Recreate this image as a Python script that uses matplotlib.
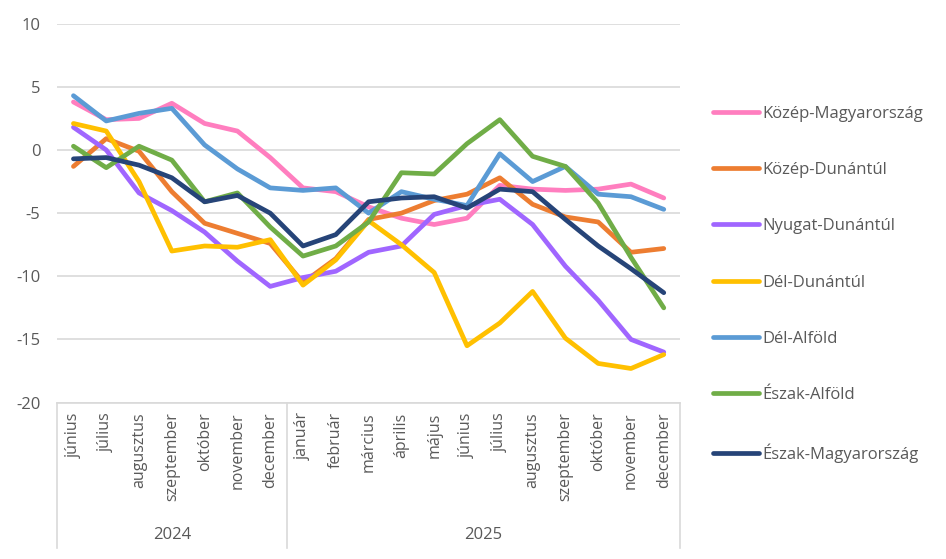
import matplotlib
matplotlib.use("Agg")
import matplotlib.pyplot as plt
import matplotlib.transforms as mtransforms

plt.rcParams['font.family'] = ['Open Sans', 'DejaVu Sans']
plt.rcParams['axes.unicode_minus'] = False

# honapok (2024 jun - 2025 dec)
months = ['június', 'július', 'augusztus', 'szeptember', 'október', 'november', 'december',
          'január', 'február', 'március', 'április', 'május', 'június', 'július',
          'augusztus', 'szeptember', 'október', 'november', 'december']
years = ['2024', '2025']
year_spans = [(0, 6), (7, 18)]

kozep_magyarorszag = [3.8, 2.4, 2.5, 3.7, 2.1, 1.5, -0.6, -3.0, -3.3, -4.5, -5.4, -5.9, -5.4,
                      -2.8, -3.1, -3.2, -3.1, -2.7, -3.8]
kozep_dunantul = [-1.3, 0.9, -0.1, -3.3, -5.8, -6.6, -7.4, -10.5, -8.6, -5.5, -5.0, -4.0, -3.5,
                  -2.2, -4.3, -5.3, -5.7, -8.1, -7.8]
nyugat_dunantul = [1.8, 0.0, -3.4, -4.8, -6.5, -8.8, -10.8, -10.1, -9.6, -8.1, -7.6, -5.1, -4.4,
                   -3.9, -5.9, -9.2, -11.9, -15.0, -16.0]
del_dunantul = [2.1, 1.5, -2.5, -8.0, -7.6, -7.7, -7.1, -10.7, -8.7, -5.6, -7.5, -9.7, -15.5,
                -13.7, -11.2, -14.9, -16.9, -17.3, -16.2]
del_alfold = [4.3, 2.3, 2.9, 3.3, 0.4, -1.5, -3.0, -3.2, -3.0, -5.0, -3.3, -3.9, -4.4,
              -0.3, -2.5, -1.3, -3.5, -3.7, -4.7]
eszak_alfold = [0.3, -1.4, 0.3, -0.8, -4.1, -3.4, -6.1, -8.4, -7.6, -5.7, -1.8, -1.9, 0.5,
                2.4, -0.5, -1.3, -4.2, -8.5, -12.5]
eszak_magyarorszag = [-0.7, -0.6, -1.2, -2.2, -4.1, -3.6, -5.0, -7.6, -6.7, -4.1, -3.8, -3.7, -4.6,
                      -3.1, -3.3, -5.5, -7.6, -9.4, -11.3]

series = [
    ('Közép-Magyarország', kozep_magyarorszag, '#FF7EBF'),
    ('Közép-Dunántúl', kozep_dunantul, '#ED7D31'),
    ('Nyugat-Dunántúl', nyugat_dunantul, '#A066FF'),
    ('Dél-Dunántúl', del_dunantul, '#FFC000'),
    ('Dél-Alföld', del_alfold, '#5B9BD5'),
    ('Észak-Alföld', eszak_alfold, '#70AD47'),
    ('Észak-Magyarország', eszak_magyarorszag, '#264478'),
]

grey = '#D9D9D9'
text_grey = '#595959'

fig = plt.figure(figsize=(9.46, 5.59), dpi=100)
ax = fig.add_axes([0.0603, 0.2798, 0.6587, 0.6778])

x = list(range(len(months)))
for name, vals, col in series:
    ax.plot(x, vals, color=col, lw=3.4, label=name,
            solid_capstyle='round', solid_joinstyle='round')

ax.set_xlim(-0.5, len(months) - 0.5)
ax.set_ylim(-20, 10)
ax.set_yticks(range(-20, 11, 5))
ax.yaxis.grid(True, color=grey, lw=1.2)
ax.set_axisbelow(True)
for s in ['top', 'right', 'left']:
    ax.spines[s].set_visible(False)
ax.spines['bottom'].set_color(grey)
ax.spines['bottom'].set_linewidth(1.2)
ax.tick_params(axis='y', length=0, pad=12, labelsize=12, labelcolor=text_grey)
ax.tick_params(axis='x', length=0, pad=7, labelsize=11.5, labelcolor=text_grey)
ax.set_xticks(x)
ax.set_xticklabels(months, rotation=90, va='top')

# ket szintu kategoria tengely
trans = mtransforms.blended_transform_factory(ax.transData, ax.transAxes)
for xb in [-0.5, 6.5, len(months) - 0.5]:
    ax.plot([xb, xb], [0, -0.384], transform=trans, color=grey, lw=1.2, clip_on=False)
for yr, (a, b) in zip(years, year_spans):
    ax.text((a + b) / 2, -0.349, yr, transform=trans, ha='center', va='center',
            fontsize=12, color=text_grey)

fig.legend(loc='upper left', bbox_to_anchor=(0.7537, 0.811), frameon=False,
           borderpad=0, borderaxespad=0, handlelength=2.75, handletextpad=0.2,
           labelspacing=2.42, fontsize=12, labelcolor=text_grey)

fig.savefig('out.png', dpi=100)
